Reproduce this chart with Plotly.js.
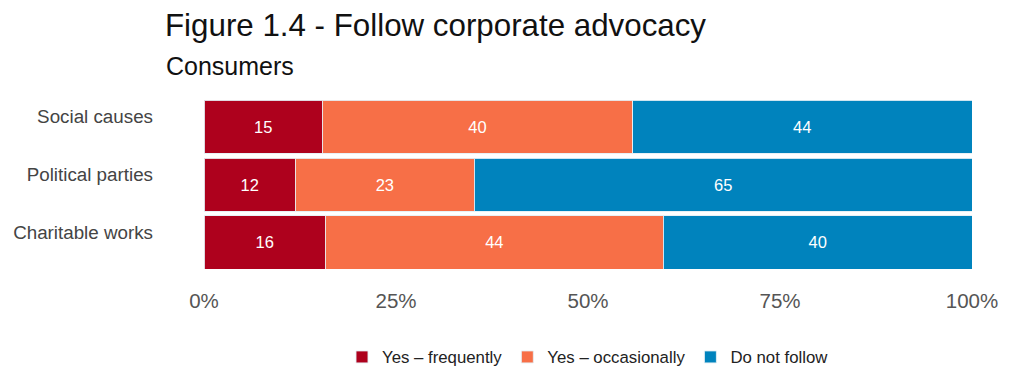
<!DOCTYPE html>
<html>
<head>
<meta charset="utf-8">
<script src="https://cdn.plot.ly/plotly-3.0.1.min.js"></script>
<style>html,body{margin:0;padding:0;background:#fff;}</style>
</head>
<body>
<div id="chart" style="width:1024px;height:392px;"></div>
<script>
const categories = ["Social causes", "Political parties", "Charitable works"];
const yesFrequently = [15.4, 11.9, 15.8];
const yesOccasionally = [40.4, 23.3, 44.0];
const doNotFollow = [44.2, 64.8, 40.2];
const seriesNames = ["Yes \u2013 frequently", "Yes \u2013 occasionally", "Do not follow"];
const seriesColors = ["#AE011D", "#F76F47", "#0083BD"];
const xTickVals = [0, 25, 50, 75, 100];
const xTickText = ["0%", "25%", "50%", "75%", "100%"];

const allSeries = [yesFrequently, yesOccasionally, doNotFollow];
const traces = allSeries.map((vals, i) => ({
  type: "bar",
  orientation: "h",
  y: categories,
  x: vals,
  name: seriesNames[i],
  marker: {color: seriesColors[i], line: {color: "rgba(230,240,245,0.9)", width: 1}},
  texttemplate: "%{x:.0f}",
  textposition: "inside",
  insidetextanchor: "middle",
  textfont: {color: "#ffffff", size: 16.5, family: "Liberation Sans, Arial, sans-serif"},
  hoverinfo: "x+y+name"
}));

const layout = {
  width: 1024, height: 392,
  margin: {l: 204, r: 52, t: 100, b: 123},
  paper_bgcolor: "#ffffff", plot_bgcolor: "#ffffff",
  barmode: "stack",
  bargap: 0.086,
  font: {family: "Liberation Sans, Arial, sans-serif", color: "#444"},
  title: {
    text: "Figure 1.4 - Follow corporate advocacy",
    font: {size: 31.3, color: "#111", family: "Liberation Sans, Arial, sans-serif"},
    xref: "container", x: 165/1024, xanchor: "left",
    yref: "container", y: 1 - 25/392, yanchor: "middle"
  },
  annotations: [{
    text: "Consumers",
    xref: "paper", yref: "paper",
    x: (164-204)/768, y: (269-66)/169,
    xanchor: "left", yanchor: "middle",
    showarrow: false,
    font: {size: 25, color: "#111", family: "Liberation Sans, Arial, sans-serif"}
  }],
  xaxis: {
    range: [0, 100],
    tickvals: xTickVals, ticktext: xTickText,
    showgrid: false, zeroline: false, showline: false,
    ticks: "", ticklen: 0,
    tickfont: {size: 20.5, color: "#555"},
    ticklabelstandoff: 17,
    fixedrange: true
  },
  yaxis: {
    type: "category",
    categoryorder: "array", categoryarray: categories,
    range: [2.457, -0.457],
    showgrid: false, zeroline: false, showline: false,
    ticks: "",
    tickfont: {size: 18.8, color: "#444"},
    ticklabelstandoff: 50,
    ticklabelshift: 10,
    fixedrange: true
  },
  showlegend: true,
  legend: {
    orientation: "h",
    x: 0.5, xanchor: "center",
    y: (269-357)/169, yanchor: "middle",
    font: {size: 16.8, color: "#222"},
    traceorder: "normal",
    itemwidth: 30
  }
};

Plotly.newPlot("chart", traces, layout, {displayModeBar: false, staticPlot: true});
</script>
</body>
</html>
